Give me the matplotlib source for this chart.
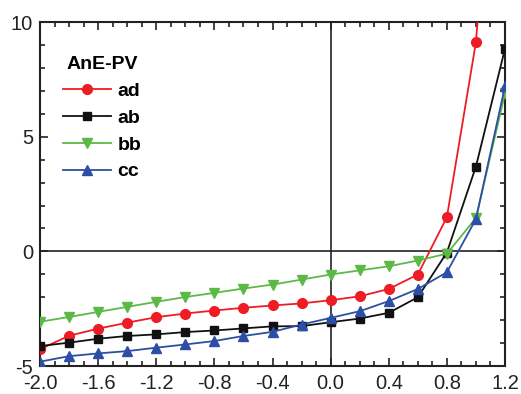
import numpy as np
import matplotlib.pyplot as plt
from matplotlib.ticker import MultipleLocator

plt.rcParams['font.family'] = ['Liberation Sans', 'DejaVu Sans']

# bias (V) at each marker
x_ad = [-2.0, -1.8, -1.6, -1.4, -1.2, -1.0, -0.8, -0.6, -0.4, -0.2, 0.0, 0.2, 0.4, 0.6, 0.8, 1.0, 1.2]
y_ad = [-4.27, -3.68, -3.37, -3.11, -2.87, -2.71, -2.58, -2.46, -2.36, -2.27, -2.13, -1.96, -1.64, -1.01, 1.49, 9.13, 25.0]

x_ab = [-2.0, -1.8, -1.6, -1.4, -1.2, -1.0, -0.8, -0.6, -0.4, -0.2, 0.0, 0.2, 0.4, 0.6, 0.8, 1.0, 1.2]
y_ab = [-4.13, -3.98, -3.81, -3.69, -3.62, -3.52, -3.45, -3.36, -3.27, -3.26, -3.09, -2.93, -2.68, -2.0, -0.05, 3.7, 8.84]

x_bb = [-2.0, -1.8, -1.6, -1.4, -1.2, -1.0, -0.8, -0.6, -0.4, -0.2, 0.0, 0.2, 0.4, 0.6, 0.8, 1.0, 1.2]
y_bb = [-3.07, -2.86, -2.64, -2.42, -2.2, -1.99, -1.81, -1.62, -1.45, -1.23, -1.01, -0.83, -0.65, -0.4, -0.1, 1.45, 6.89]

x_cc = [-2.0, -1.8, -1.6, -1.4, -1.2, -1.0, -0.8, -0.6, -0.4, -0.2, 0.0, 0.2, 0.4, 0.6, 0.8, 1.0, 1.2]
y_cc = [-4.81, -4.57, -4.45, -4.35, -4.2, -4.06, -3.91, -3.69, -3.51, -3.19, -2.9, -2.61, -2.17, -1.64, -0.91, 1.41, 7.2]

fig = plt.figure(figsize=(5.21, 3.94), dpi=100)
ax = fig.add_axes([0.0768, 0.071, 0.8925, 0.873])

ax.axhline(0, color='#222222', lw=1.2, zorder=1)
ax.axvline(0, color='#222222', lw=1.2, zorder=1)

ax.plot(x_ad, y_ad, color='#ee1c24', marker='o', ms=7, lw=1.3, label='ad', zorder=3)
ax.plot(x_ab, y_ab, color='#111111', marker='s', ms=6, lw=1.3, label='ab', zorder=3)
ax.plot(x_bb, y_bb, color='#5cb947', marker='v', ms=7.5, lw=1.3, label='bb', zorder=3)
ax.plot(x_cc, y_cc, color='#2d4ea5', marker='^', ms=7.5, lw=1.3, label='cc', zorder=3)

ax.set_xlim(-2.0, 1.2)
ax.set_ylim(-5, 10)
ax.xaxis.set_minor_locator(MultipleLocator(0.1))
ax.yaxis.set_minor_locator(MultipleLocator(1))
ax.set_xticks(np.arange(-2.0, 1.21, 0.4))
ax.set_xticklabels(['-2.0', '-1.6', '-1.2', '-0.8', '-0.4', '0.0', '0.4', '0.8', '1.2'])
ax.set_yticks([-5, 0, 5, 10])
ax.set_yticklabels(['-5', '0', '5', '10'])

ax.tick_params(which='both', direction='in', top=True, right=True, labelsize=14.5,
               colors='#222222', width=1.2)
ax.tick_params(which='major', length=6)
ax.tick_params(which='minor', length=3.5)
ax.tick_params(axis='x', pad=6)
ax.tick_params(axis='y', pad=5)
for s in ax.spines.values():
    s.set_linewidth(1.5)
    s.set_color('#222222')

leg = ax.legend(loc='upper left', bbox_to_anchor=(0.049, 0.90), frameon=False,
                borderpad=0, borderaxespad=0, title='AnE-PV',
                prop={'weight': 'bold', 'size': 14},
                handlelength=2.5, handletextpad=0.3, labelspacing=0.47)
leg.get_title().set_fontweight('bold')
leg.get_title().set_fontsize(14)

fig.savefig('out.png', dpi=100)
